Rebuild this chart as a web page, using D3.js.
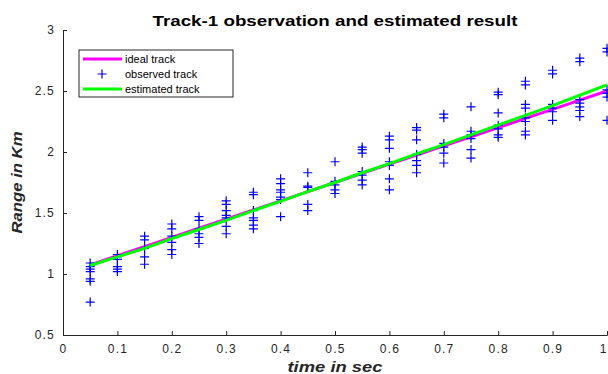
<!DOCTYPE html>
<html>
<head>
<meta charset="utf-8">
<script src="https://cdnjs.cloudflare.com/ajax/libs/d3/7.8.5/d3.min.js"></script>
<style>
  body { margin: 0; background: #fff; }
  svg { display: block; font-family: "Liberation Sans", Arial, sans-serif; }
</style>
</head>
<body>
<div id="chart"></div>
<script>
const width = 608;
const height = 374;
const margin = { top: 30, right: 1, bottom: 39, left: 63 };
const chartWidth = width - margin.left - margin.right;
const chartHeight = height - margin.top - margin.bottom;

const times = [0.05, 0.1, 0.15, 0.2, 0.25, 0.3, 0.35, 0.4, 0.45, 0.5,
  0.55, 0.6, 0.65, 0.7, 0.75, 0.8, 0.85, 0.9, 0.95, 1.0];

const idealTrack = [1.075, 1.15, 1.225, 1.3, 1.375, 1.45, 1.525, 1.6, 1.675, 1.75,
  1.825, 1.9, 1.975, 2.05, 2.125, 2.2, 2.275, 2.35, 2.425, 2.5];

const estimatedTrack = [1.07, 1.14, 1.21, 1.29, 1.365, 1.44, 1.52, 1.595, 1.675, 1.75,
  1.83, 1.905, 1.985, 2.06, 2.14, 2.22, 2.30, 2.38, 2.465, 2.55];

// several observations per time step
const observedTrack = [
  [1.09, 1.06, 1.04, 1.02, 0.96, 0.94, 0.77],
  [1.16, 1.14, 1.12, 1.06, 1.04, 1.02],
  [1.31, 1.28, 1.21, 1.14, 1.08],
  [1.41, 1.37, 1.31, 1.26, 1.20, 1.16],
  [1.47, 1.44, 1.37, 1.33, 1.30, 1.25],
  [1.60, 1.57, 1.52, 1.48, 1.46, 1.39, 1.33],
  [1.67, 1.65, 1.52, 1.46, 1.44, 1.40, 1.37],
  [1.78, 1.74, 1.69, 1.67, 1.63, 1.61, 1.47],
  [1.83, 1.72, 1.71, 1.57, 1.52],
  [1.92, 1.76, 1.73, 1.69, 1.66],
  [2.04, 2.02, 1.99, 1.84, 1.81, 1.77, 1.73],
  [2.13, 2.10, 2.03, 1.92, 1.89, 1.78, 1.69],
  [2.20, 2.18, 2.10, 1.98, 1.93, 1.89, 1.83],
  [2.31, 2.28, 2.07, 2.04, 1.99, 1.91],
  [2.37, 2.17, 2.14, 2.11, 2.02, 1.95],
  [2.49, 2.47, 2.32, 2.22, 2.19, 2.14, 2.12],
  [2.58, 2.55, 2.39, 2.36, 2.28, 2.25, 2.17, 2.14],
  [2.67, 2.64, 2.39, 2.36, 2.33, 2.26],
  [2.77, 2.74, 2.43, 2.40, 2.37, 2.34, 2.29],
  [2.85, 2.82, 2.51, 2.48, 2.45, 2.26]
];

const xTicks = [0, 0.1, 0.2, 0.3, 0.4, 0.5, 0.6, 0.7, 0.8, 0.9, 1];
const yTicks = [0.5, 1, 1.5, 2, 2.5, 3];
const legendLabels = ['ideal track', 'observed track', 'estimated track'];

const axisColor = '#262626';
const idealColor = '#ff00ff';
const estColor = '#00ff00';
const obsColor = '#0000ff';

const svg = d3.select('#chart')
  .append('svg')
  .attr('width', width)
  .attr('height', height);

const g = svg.append('g')
  .attr('transform', `translate(${margin.left},${margin.top})`);

const xScale = d3.scaleLinear().domain([0, 1]).range([0, chartWidth]);
const yScale = d3.scaleLinear().domain([0.5, 3]).range([chartHeight, 0]);

// axes, MATLAB style inward ticks
const xAxis = d3.axisBottom(xScale).tickValues(xTicks).tickSize(-4).tickPadding(9)
  .tickFormat(d3.format('~g'));
const yAxis = d3.axisLeft(yScale).tickValues(yTicks).tickSize(-4).tickPadding(8)
  .tickFormat(d3.format('~g'));

const gx = g.append('g')
  .attr('transform', `translate(0,${chartHeight})`)
  .call(xAxis);
const gy = g.append('g').call(yAxis);

[gx, gy].forEach(a => {
  a.select('.domain').attr('stroke', axisColor).attr('stroke-width', 1);
  a.selectAll('.tick line').attr('stroke', axisColor);
  a.selectAll('text').attr('fill', axisColor)
    .style('font-size', '12px')
    .style('letter-spacing', '1.2px');
});
// last x label sits on the right edge
gx.selectAll('.tick text').filter(d => d === 1)
  .attr('text-anchor', 'end').attr('dx', -1)
  .style('letter-spacing', '0px');

// lines
const idealData = times.map((t, i) => ({ t, v: idealTrack[i] }));
const estData = times.map((t, i) => ({ t, v: estimatedTrack[i] }));
const line = d3.line().x(d => xScale(d.t)).y(d => yScale(d.v));

g.append('path')
  .datum(idealData)
  .attr('d', line)
  .attr('fill', 'none')
  .attr('stroke', idealColor)
  .attr('stroke-width', 3);

// observations as plus markers
const obsData = [];
times.forEach((t, i) => observedTrack[i].forEach(v => obsData.push({ t, v })));

const ms = 4.5;
g.selectAll('.obs')
  .data(obsData)
  .enter()
  .append('path')
  .attr('class', 'obs')
  .attr('d', d => {
    const x = xScale(d.t), y = yScale(d.v);
    return `M${x - ms},${y}H${x + ms}M${x},${y - ms}V${y + ms}`;
  })
  .attr('stroke', obsColor)
  .attr('stroke-width', 1.2)
  .attr('fill', 'none');

g.append('path')
  .datum(estData)
  .attr('d', line)
  .attr('fill', 'none')
  .attr('stroke', estColor)
  .attr('stroke-width', 3);

// title and axis labels
svg.append('text')
  .attr('x', margin.left + chartWidth / 2)
  .attr('y', 26)
  .attr('text-anchor', 'middle')
  .attr('font-weight', 'bold')
  .attr('font-size', '15px')
  .attr('textLength', 365)
  .attr('lengthAdjust', 'spacingAndGlyphs')
  .attr('fill', '#000')
  .text('Track-1 observation and estimated result');

svg.append('text')
  .attr('x', margin.left + chartWidth / 2)
  .attr('y', 372)
  .attr('text-anchor', 'middle')
  .attr('font-weight', 'bold')
  .attr('font-style', 'italic')
  .attr('font-size', '15px')
  .attr('textLength', 95)
  .attr('lengthAdjust', 'spacingAndGlyphs')
  .attr('fill', axisColor)
  .text('time in sec');

svg.append('text')
  .attr('transform', `translate(22,${margin.top + chartHeight / 2}) rotate(-90)`)
  .attr('text-anchor', 'middle')
  .attr('font-weight', 'bold')
  .attr('font-style', 'italic')
  .attr('font-size', '15px')
  .attr('textLength', 102)
  .attr('lengthAdjust', 'spacingAndGlyphs')
  .attr('fill', axisColor)
  .text('Range in Km');

// legend
const legend = svg.append('g').attr('transform', 'translate(79,50)');
legend.append('rect')
  .attr('width', 154).attr('height', 47)
  .attr('fill', '#fff').attr('stroke', axisColor).attr('stroke-width', 1);

const rows = legend.selectAll('.row')
  .data(legendLabels)
  .enter()
  .append('g')
  .attr('transform', (d, i) => `translate(0,${9 + i * 15})`);

rows.append('text')
  .attr('x', 46)
  .attr('y', 4)
  .attr('font-size', '11px')
  .attr('fill', '#000')
  .text(d => d);

rows.filter((d, i) => i !== 1).append('line')
  .attr('x1', 4).attr('x2', 43).attr('y1', 0).attr('y2', 0)
  .attr('stroke', (d, i) => i === 0 ? idealColor : estColor)
  .attr('stroke-width', 3);

rows.filter((d, i) => i === 1).append('path')
  .attr('d', `M${23 - ms},0H${23 + ms}M23,${-ms}V${ms}`)
  .attr('stroke', obsColor)
  .attr('stroke-width', 1.2);
</script>
</body>
</html>
